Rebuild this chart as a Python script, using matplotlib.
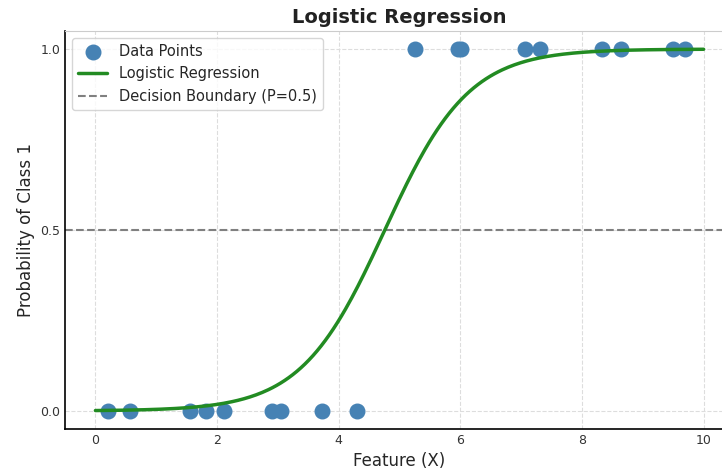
import numpy as np
import matplotlib.pyplot as plt
import seaborn as sns

# -----------------------------------
# Data
# -----------------------------------
x_class0 = [0.20, 0.57, 1.55, 1.82, 2.12, 2.90, 3.05, 3.73, 4.30]
x_class1 = [5.25, 5.97, 6.01, 7.07, 7.31, 8.33, 8.65, 9.50, 9.70]

# fitted model parameters
coef = 1.45
intercept = -6.9

X = np.array(x_class0 + x_class1)
y = np.array([0] * len(x_class0) + [1] * len(x_class1))

# -----------------------------------
# Style
# -----------------------------------
sns.set_style("whitegrid")
plt.rcParams['font.family'] = ['DejaVu Sans']

fig = plt.figure(figsize=(7.22, 4.71), dpi=100)
ax = fig.add_axes([65 / 722, 42 / 471, 669 / 722, 398 / 471])

# -----------------------------------
# Plot
# -----------------------------------
x_grid = np.linspace(0, 10, 300)
prob = 1 / (1 + np.exp(-(coef * x_grid + intercept)))

ax.scatter(X, y, s=110, color="steelblue", label="Data Points", zorder=3)
ax.plot(x_grid, prob, color="forestgreen", linewidth=2.5, label="Logistic Regression", zorder=4)
ax.axhline(0.5, color="gray", linestyle="--", linewidth=1.5, label="Decision Boundary (P=0.5)")

ax.set_xlim(-0.5, 10.5)
ax.set_ylim(-0.05, 1.05)
ax.set_xticks([0, 2, 4, 6, 8, 10])
ax.set_yticks([0.0, 0.5, 1.0])
ax.tick_params(axis="both", labelsize=9, colors="#333333", length=0)

ax.grid(True, linestyle="--", color="#dddddd", linewidth=0.8)
for side in ["left", "bottom"]:
    ax.spines[side].set_color("black")
    ax.spines[side].set_linewidth(1.2)
ax.spines["top"].set_color("#cccccc")
ax.spines["top"].set_linewidth(0.8)

ax.set_title("Logistic Regression", fontsize=14, fontweight="bold", color="#222222", pad=6)
ax.set_xlabel("Feature (X)", fontsize=12, labelpad=4)
ax.set_ylabel("Probability of Class 1", fontsize=12)

ax.legend(loc="upper left", fontsize=10.5, frameon=True)

fig.savefig("out.png", dpi=100)
